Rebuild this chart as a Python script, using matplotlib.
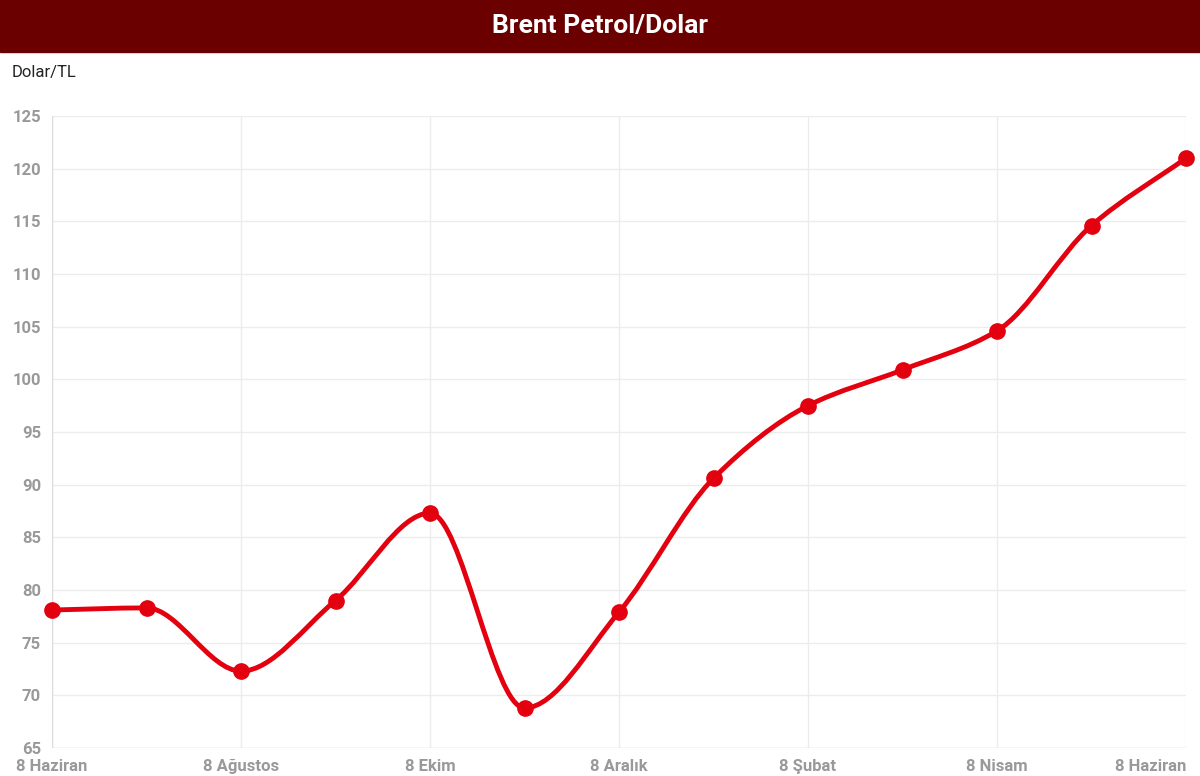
import numpy as np
import matplotlib.pyplot as plt
from matplotlib.path import Path
from matplotlib.patches import PathPatch, Rectangle

plt.rcParams['font.family'] = ['Roboto', 'DejaVu Sans']

labels = ['8 Haziran', '', '8 Ağustos', '', '8 Ekim', '', '8 Aralık', '',
          '8 Şubat', '', '8 Nisam', '', '8 Haziran']
values = [78.1, 78.3, 72.3, 79.0, 87.3, 68.8, 77.9, 90.6, 97.5, 100.9, 104.6, 114.6, 121.0]

fig = plt.figure(figsize=(12, 7.76), dpi=100)
ax = fig.add_axes([52 / 1200, 28 / 776, 1134 / 1200, 632 / 776])

x = np.arange(len(values))
y = np.array(values, dtype=float)

# monotone cubic tangents (Fritsch-Carlson) for the drawn line
d = np.diff(y)
m = np.zeros_like(y)
m[0], m[-1] = d[0], d[-1]
for i in range(1, len(y) - 1):
    m[i] = 0 if d[i - 1] * d[i] <= 0 else 2 / (1 / d[i - 1] + 1 / d[i])
verts = [(x[0], y[0])]
codes = [Path.MOVETO]
for i in range(len(x) - 1):
    verts += [(x[i] + 1 / 3, y[i] + m[i] / 3), (x[i + 1] - 1 / 3, y[i + 1] - m[i + 1] / 3),
              (x[i + 1], y[i + 1])]
    codes += [Path.CURVE4] * 3
ax.add_patch(PathPatch(Path(verts, codes), fill=False, edgecolor='#e3000f', lw=3.5, zorder=3))
ax.plot(x, y, 'o', color='#e3000f', ms=11, zorder=4, clip_on=False)

ax.set_xlim(0, 12)
ax.set_ylim(65, 125)
ax.set_yticks(range(65, 126, 5))
ax.set_xticks(x[::2])
ax.set_xticklabels(labels[::2])
ax.grid(True, color='#ececec', lw=1)
ax.tick_params(length=0, colors='#999999', labelsize=12)
ax.tick_params(axis='x', pad=8)
ax.tick_params(axis='y', pad=8)
for lab in ax.get_xticklabels() + ax.get_yticklabels():
    lab.set_fontweight('bold')
ax.get_xticklabels()[-1].set_ha('right')
ax.get_xticklabels()[-1].set_x(12.05)
for s in ax.spines.values():
    s.set_visible(False)
ax.axvline(0, color='#dddddd', lw=1)
ax.axhline(65, color='#dddddd', lw=1)

fig.patches.append(Rectangle((0, 1 - 52 / 776), 1, 52 / 776, transform=fig.transFigure,
                             color='#6b0000', zorder=0))
fig.text(0.5, 1 - 26 / 776, 'Brent Petrol/Dolar', ha='center', va='center',
         color='white', fontsize=19, fontweight='bold')
fig.text(12 / 1200, 1 - 73 / 776, 'Dolar/TL', ha='left', va='center', fontsize=12, color='#222222')

fig.savefig('out.png')
